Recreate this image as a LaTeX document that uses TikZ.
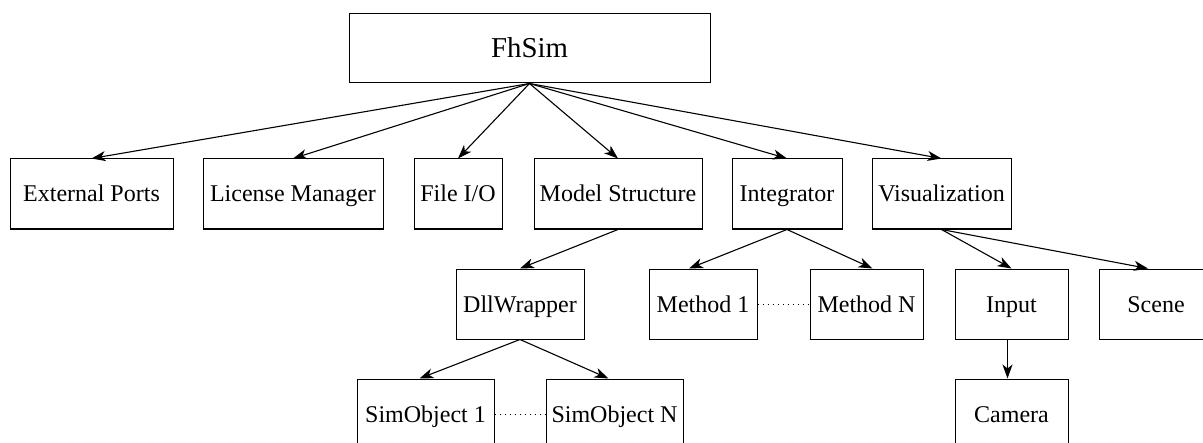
\documentclass[tikz,border=0pt]{standalone}
\usepackage{fontspec}
\setmainfont{Liberation Serif}
\newfontfamily\diagfont{Liberation Serif}
\usetikzlibrary{arrows.meta}

\begin{document}
\begin{tikzpicture}[x=0.5pt,y=-0.5pt,
    box/.style={draw, line width=0.5pt, minimum height=35pt, inner sep=0pt, text height=9.5pt, text depth=1.5pt, font=\diagfont\fontsize{12}{14}\selectfont},
    arr/.style={-{Stealth[length=7pt,width=5pt,inset=2pt]}, line width=0.55pt}]
                % Fix the frame of the picture
                \useasboundingbox (0,0) rectangle (1203,443);
                \clip (0,0) rectangle (1203,443);
                % Draw the top box
                \node[box, minimum width=180.5pt, minimum height=34.5pt, text height=11pt, text depth=1.5pt, font=\diagfont\fontsize{14.4}{17}\selectfont] (fhsim) at (529.5,48.5) {FhSim};
                % Draw the modules
                \node[box, minimum width=81.5pt] (ext) at (91.5,194) {External Ports};
                \node[box, minimum width=90pt] (lic) at (293,194) {License Manager};
                \node[box, minimum width=44pt] (fio) at (458,194) {File I/O};
                \node[box, minimum width=84pt] (mod) at (618,194) {Model Structure};
                \node[box, minimum width=55pt] (int) at (787,194) {Integrator};
                \node[box, minimum width=69.5pt] (vis) at (941.5,194) {Visualization};
                % Draw the sub modules
                \node[box, minimum width=64pt] (dll) at (520,304) {DllWrapper};
                \node[box, minimum width=54pt] (met1) at (703,304) {Method 1};
                \node[box, minimum width=56.5pt] (metn) at (866.5,304) {Method N};
                \node[box, minimum width=56.5pt] (inp) at (1011.5,304) {Input};
                \node[box, minimum width=57pt] (scn) at (1156,304) {Scene};
                \node[box, minimum width=68.5pt] (sim1) at (425.5,414) {SimObject 1};
                \node[box, minimum width=68.5pt] (simn) at (614.5,414) {SimObject N};
                \node[box, minimum width=56.5pt] (cam) at (1011.5,414) {Camera};
                % Draw the arrows
                \foreach \n in {ext,lic,fio,mod,int,vis}{
                    \draw[arr] (fhsim.south) -- (\n.north);
                }
                \draw[arr] (mod.south) -- (dll.north);
                \draw[arr] (dll.south) -- ([xshift=-3pt]sim1.north);
                \draw[arr] (dll.south) -- ([xshift=-3pt]simn.north);
                \draw[arr] (int.south) -- ([xshift=-7pt]met1.north);
                \draw[arr] (int.south) -- ([xshift=3pt]metn.north);
                \draw[arr] (vis.south) -- (inp.north);
                \draw[arr] (vis.south) -- ([xshift=-4pt]scn.north);
                \draw[arr] ([xshift=-2pt]inp.south) -- ([xshift=-2pt]cam.north);
                % Draw the dotted links
                \draw[dotted, line width=0.5pt] (met1.east) -- (metn.west);
                \draw[dotted, line width=0.5pt] (sim1.east) -- (simn.west);
\end{tikzpicture}
\end{document}
